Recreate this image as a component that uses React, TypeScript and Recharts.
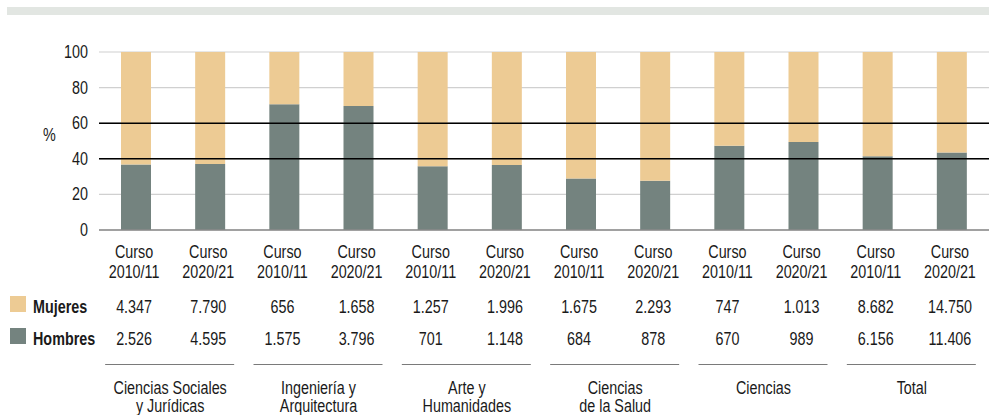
import { BarChart, Bar, XAxis, YAxis, CartesianGrid, ReferenceLine } from 'recharts';

const groupLines = [
  ['Ciencias Sociales', 'y Jurídicas'],
  ['Ingeniería y', 'Arquitectura'],
  ['Arte y', 'Humanidades'],
  ['Ciencias', 'de la Salud'],
  ['Ciencias'],
  ['Total'],
];
const courses = ['2010/11', '2020/21'];
const mujeres = [4347, 7790, 656, 1658, 1257, 1996, 1675, 2293, 747, 1013, 8682, 14750];
const hombres = [2526, 4595, 1575, 3796, 701, 1148, 684, 878, 670, 989, 6156, 11406];
const yTicks = [0, 20, 40, 60, 80, 100];
const darkLevels = [40, 60];

const MUJ = '#edcb94';
const HOM = '#74837f';
const FONT = "'Liberation Sans', Arial, sans-serif";
const FS = 17.5;
const NARROW = 0.82;

const data = mujeres.map((m, i) => ({
  key: `${Math.floor(i / 2)}-${courses[i % 2]}`,
  group: groupLines[Math.floor(i / 2)].join(' '),
  course: courses[i % 2],
  mujeres: m,
  hombres: hombres[i],
}));

const fmt = (n: number) => String(n).replace(/\B(?=(\d{3})+(?!\d))/g, '.');

// condensed text: regular font squeezed horizontally
const NText = ({ x, y, anchor = 'middle', bold = false, children }: any) => (
  <text
    transform={`translate(${x},${y}) scale(${NARROW},1)`}
    x={0}
    y={0}
    textAnchor={anchor}
    fontFamily={FONT}
    fontSize={FS}
    fontWeight={bold ? 'bold' : 'normal'}
    fill="#1a1a1a"
  >
    {children}
  </text>
);

const CourseTick = (props: any) => {
  const { x, index } = props;
  const y0 = 230;
  const cx = x - 2;
  const d = data[index];
  return (
    <g>
      <NText x={cx} y={y0 + 28}>Curso</NText>
      <NText x={cx} y={y0 + 48}>{d.course}</NText>
      <NText x={cx} y={y0 + 83}>{fmt(d.mujeres)}</NText>
      <NText x={cx} y={y0 + 115}>{fmt(d.hombres)}</NText>
    </g>
  );
};

const GroupTick = (props: any) => {
  const { x, index } = props;
  const y0 = 360;
  const lines = groupLines[index] || [];
  return (
    <g>
      <line x1={x - 68} x2={x + 61} y1={y0 + 4.5} y2={y0 + 4.5} stroke="#7a7a7a" strokeWidth={1} />
      {lines.map((l, k) => (
        <NText key={k} x={x - 3} y={y0 + 34 + k * 17.5}>{l}</NText>
      ))}
    </g>
  );
};

const YTick = (props: any) => {
  const { x, y, payload } = props;
  return (
    <NText x={x} y={y + 6} anchor="end">
      {String(Math.round(payload.value * 100))}
    </NText>
  );
};

export default function App() {
  return (
    <div style={{ position: 'absolute', left: 0, top: 0, width: 989, height: 415, background: '#fff' }}>
      <div style={{ position: 'absolute', left: 7, top: 7, width: 982, height: 8, background: '#e2e6e2' }} />
      <BarChart
        width={989}
        height={415}
        data={data}
        stackOffset="expand"
        barSize={30}
        margin={{ top: 52, right: 0, left: 0, bottom: 0 }}
      >
        <CartesianGrid horizontal vertical={false} stroke="#d0d0d0" strokeWidth={1.2} />
        <XAxis
          dataKey="key"
          height={130}
          tickLine={false}
          tickSize={0}
          tickMargin={0}
          interval={0}
          axisLine={{ stroke: '#8a8a8a', strokeWidth: 1.5 }}
          tick={<CourseTick />}
        />
        <XAxis
          xAxisId="group"
          dataKey="group"
          allowDuplicatedCategory={false}
          height={55}
          axisLine={false}
          tickLine={false}
          tickSize={0}
          tickMargin={0}
          interval={0}
          tick={<GroupTick />}
        />
        <YAxis
          width={99}
          domain={[0, 1]}
          ticks={yTicks.map((t) => t / 100)}
          axisLine={false}
          tickLine={false}
          tickSize={0}
          tickMargin={11}
          tick={<YTick />}
          label={<NText x={50} y={147}>%</NText>}
        />
        <Bar dataKey="hombres" stackId="a" fill={HOM} isAnimationActive={false} />
        <Bar dataKey="mujeres" stackId="a" fill={MUJ} isAnimationActive={false} />
        {darkLevels.map((l) => (
          <ReferenceLine key={l} y={l / 100} stroke="#000" strokeWidth={1.5} />
        ))}
      </BarChart>
      <div style={{ position: 'absolute', left: 10, top: 296, width: 16, height: 16, background: MUJ }} />
      <div style={{ position: 'absolute', left: 10, top: 328, width: 16, height: 16, background: HOM }} />
      <svg style={{ position: 'absolute', left: 0, top: 280 }} width={100} height={80}>
        <NText x={33} y={33} anchor="start" bold>Mujeres</NText>
        <NText x={33} y={65} anchor="start" bold>Hombres</NText>
      </svg>
    </div>
  );
}
